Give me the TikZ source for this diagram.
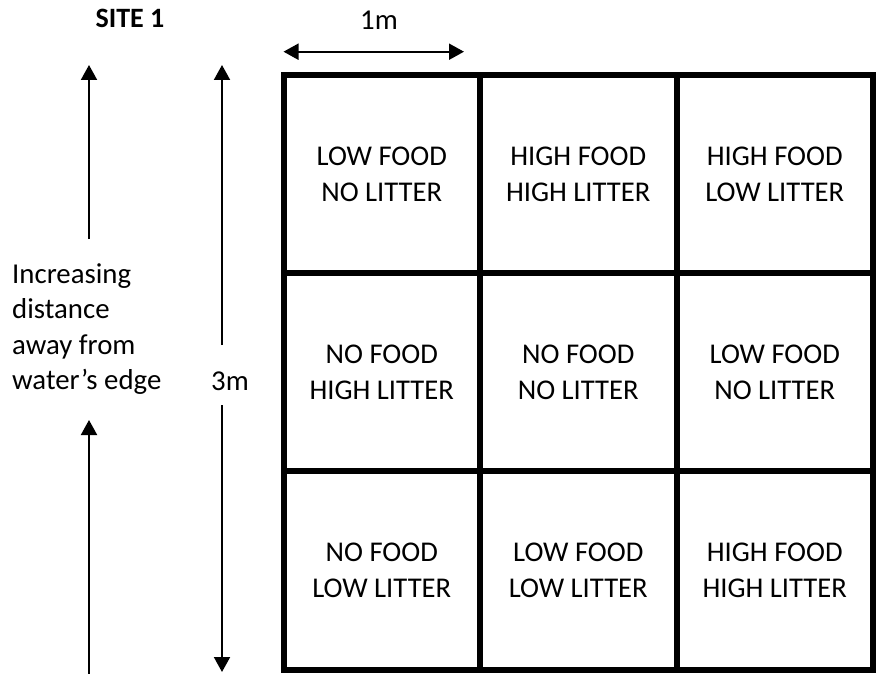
\documentclass[tikz,border=0pt]{standalone}
\usepackage{fontspec}
\setmainfont{Carlito}
\usetikzlibrary{arrows.meta}
\begin{document}
\begin{tikzpicture}[x=1pt,y=-1pt,
  cell/.style={draw, line width=6pt, minimum width=196.5pt, minimum height=198.2pt,
    inner sep=0pt, align=center, font=\fontsize{28.6}{36.5}\selectfont},
  txt/.style={inner sep=0pt, font=\fontsize{28.8}{35.3}\selectfont},
  arr/.style={line width=2pt, -{Triangle[length=15pt,width=16pt]}},
  darr/.style={line width=2pt, {Triangle[length=15pt,width=16pt]}-{Triangle[length=15pt,width=16pt]}}]
\useasboundingbox (0,0) rectangle (876,674);
% grid cells
\node[cell] (c11) at (381.75,174.1) {LOW FOOD\\NO LITTER};
\node[cell] (c12) at (578.25,174.1) {HIGH FOOD\\HIGH LITTER};
\node[cell] (c13) at (774.75,174.1) {HIGH FOOD\\LOW LITTER};
\node[cell] (c21) at (381.75,372.25) {NO FOOD\\HIGH LITTER};
\node[cell] (c22) at (578.25,372.25) {NO FOOD\\NO LITTER};
\node[cell] (c23) at (774.75,372.25) {LOW FOOD\\NO LITTER};
\node[cell] (c31) at (381.75,570.4) {NO FOOD\\LOW LITTER};
\node[cell] (c32) at (578.25,570.4) {LOW FOOD\\LOW LITTER};
\node[cell] (c33) at (774.75,570.4) {HIGH FOOD\\HIGH LITTER};
% labels
\node[txt, anchor=base, font=\fontsize{28}{32}\selectfont\bfseries] (site) at (130,27.5) {SITE 1};
\node[txt, anchor=base] (onem) at (379,30) {1m};
\node[txt, anchor=base] (threem) at (230,390) {3m};
\node[txt, anchor=north west, align=left] (dist) at (12,263.5) {Increasing\\distance\\away from\\water’s edge};
% arrows
\coordinate (h1) at (283.5,51.7);
\coordinate (h2) at (464,51.7);
\draw[darr] (h1) -- (h2);
\coordinate (la1) at (89,239);
\coordinate (la2) at (89,65);
\draw[arr] (la1) -- (la2);
\coordinate (lb1) at (89,676);
\coordinate (lb2) at (89,420);
\draw[arr] (lb1) -- (lb2);
\coordinate (ma1) at (222,345);
\coordinate (ma2) at (222,65);
\draw[arr] (ma1) -- (ma2);
\coordinate (mb1) at (222,405);
\coordinate (mb2) at (222,672);
\draw[arr] (mb1) -- (mb2);
\end{tikzpicture}
\end{document}
